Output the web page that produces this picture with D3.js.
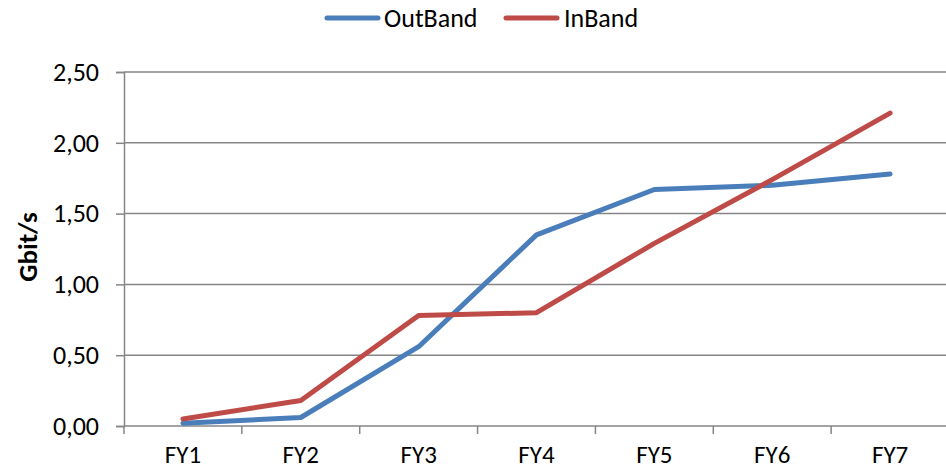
<!DOCTYPE html>
<html>
<head>
<meta charset="utf-8">
<script src="https://cdn.jsdelivr.net/npm/d3@7"></script>
<style>
  html, body { margin: 0; padding: 0; background: #fff; }
  svg { display: block; }
  text { font-family: Carlito, Calibri, Lato, sans-serif; fill: #000; }
</style>
</head>
<body>
<svg id="chart" width="946" height="469"></svg>
<script>
// Throughput per fiscal year, Gbit/s
const categories = ["FY1", "FY2", "FY3", "FY4", "FY5", "FY6", "FY7"];
const outBand = [0.02, 0.06, 0.56, 1.35, 1.67, 1.70, 1.78];
const inBand  = [0.05, 0.18, 0.78, 0.80, 1.29, 1.74, 2.21];
const yTicks = [0, 0.5, 1.0, 1.5, 2.0, 2.5];
const seriesNames = ["OutBand", "InBand"];
const seriesColors = ["#4A7EBB", "#BE4B48"];

const series = [
  { name: seriesNames[0], values: outBand, color: seriesColors[0] },
  { name: seriesNames[1], values: inBand, color: seriesColors[1] }
];

const svg = d3.select("#chart");
const margin = { left: 124, top: 72, right: 949, bottom: 426 };
const fontFamily = "Carlito, Calibri, Lato, sans-serif";
const fontSize = 26;
const gridColor = "#868686";

const x = d3.scaleBand().domain(categories).range([margin.left, margin.right]);
const y = d3.scaleLinear().domain([0, 2.5]).range([margin.bottom, margin.top]);
const fmt = v => d3.format(".2f")(v).replace(".", ",");

// horizontal gridlines
svg.append("g")
  .selectAll("line")
  .data(yTicks.filter(v => v > 0))
  .join("line")
  .attr("x1", margin.left).attr("x2", margin.right)
  .attr("y1", d => y(d)).attr("y2", d => y(d))
  .attr("stroke", gridColor).attr("stroke-width", 1.5);

// y axis
const yAxis = svg.append("g")
  .attr("transform", `translate(${margin.left},0)`)
  .call(d3.axisLeft(y).tickValues(yTicks).tickFormat(fmt).tickSize(8).tickPadding(17));
yAxis.select(".domain").attr("stroke", gridColor).attr("stroke-width", 1.5);
yAxis.selectAll(".tick line").attr("stroke", gridColor).attr("stroke-width", 1.5);
yAxis.selectAll(".tick text")
  .attr("font-size", fontSize).attr("font-family", fontFamily)
  .attr("fill", "#000");

// x axis: ticks at category boundaries
const xAxis = svg.append("g")
  .attr("transform", `translate(0,${margin.bottom})`);
xAxis.append("line")
  .attr("x1", margin.left).attr("x2", margin.right)
  .attr("y1", 0).attr("y2", 0)
  .attr("stroke", gridColor).attr("stroke-width", 1.5);
const boundaries = categories.map(c => x(c)).concat([x(categories[categories.length - 1]) + x.bandwidth()]);
xAxis.selectAll("line.tick")
  .data(boundaries)
  .join("line")
  .attr("class", "tick")
  .attr("x1", d => d).attr("x2", d => d)
  .attr("y1", 0).attr("y2", 8)
  .attr("stroke", gridColor).attr("stroke-width", 1.5);
xAxis.selectAll("text")
  .data(categories)
  .join("text")
  .attr("x", d => x(d) + x.bandwidth() / 2)
  .attr("y", 37)
  .attr("text-anchor", "middle")
  .attr("font-size", 25)
  .text(d => d);

// y axis title
svg.append("text")
  .attr("transform", "translate(37,247) rotate(-90)")
  .attr("text-anchor", "middle")
  .attr("font-size", 27)
  .attr("font-weight", "bold")
  .text("Gbit/s");

// series lines
const line = d3.line()
  .x((d, i) => x(categories[i]) + x.bandwidth() / 2)
  .y(d => y(d));

svg.append("g")
  .selectAll("path")
  .data(series)
  .join("path")
  .attr("d", d => line(d.values))
  .attr("fill", "none")
  .attr("stroke", d => d.color)
  .attr("stroke-width", 5)
  .attr("stroke-linejoin", "round")
  .attr("stroke-linecap", "round");

// legend
const legendItems = [
  { s: series[0], lx: 327, tx: 384 },
  { s: series[1], lx: 506, tx: 564 }
];
const legend = svg.append("g");
legend.selectAll("line")
  .data(legendItems)
  .join("line")
  .attr("x1", d => d.lx).attr("x2", d => d.lx + 51)
  .attr("y1", 18).attr("y2", 18)
  .attr("stroke", d => d.s.color)
  .attr("stroke-width", 5)
  .attr("stroke-linecap", "round");
legend.selectAll("text")
  .data(legendItems)
  .join("text")
  .attr("x", d => d.tx)
  .attr("y", 26.5)
  .attr("font-size", fontSize)
  .text(d => d.s.name);
</script>
</body>
</html>
